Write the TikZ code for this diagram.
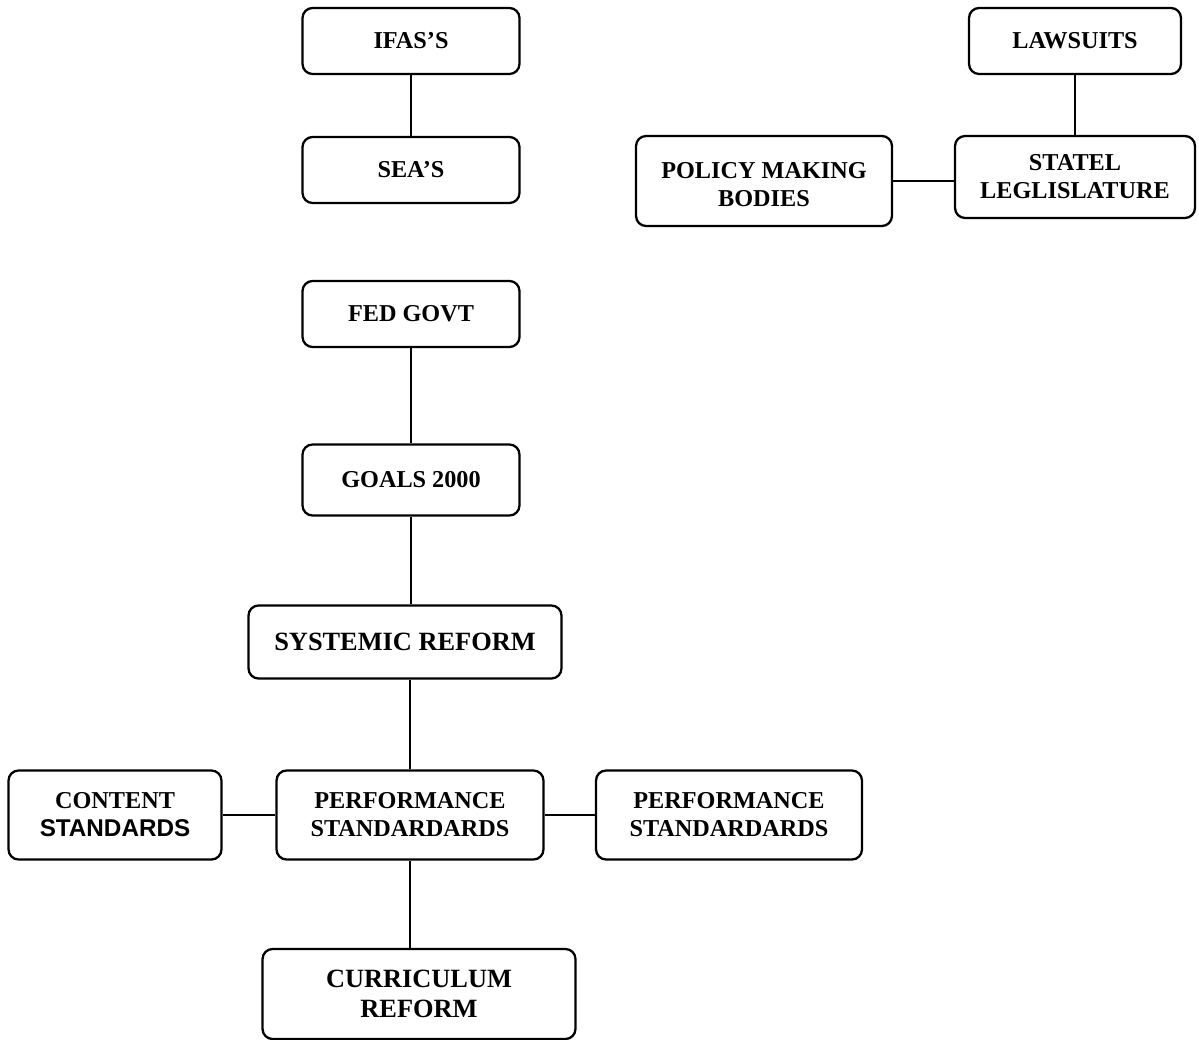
\documentclass[tikz,border=0pt]{standalone}
\usepackage{fontspec}
\setmainfont{Liberation Serif}
\newfontfamily\arialfont{Liberation Sans}
\tikzstyle{box} = [rectangle, rounded corners=0.2cm, minimum width=4.34cm, minimum height=1.32cm, text centered, align=center, draw=black, line width=1.3pt, font=\fontsize{13.8}{16}\selectfont\bfseries]
\tikzstyle{bigbox} = [box, font=\fontsize{15}{17.5}\selectfont\bfseries]
\tikzstyle{line} = [draw, line width=1.3pt]

\begin{document}
\begin{tikzpicture}[x=0.02cm, y=-0.02cm]
\useasboundingbox (0,0) rectangle (1199,1040);
\node (ifas) [box] at (411,41) {IFAS’S};
\node (sea) [box] at (411,170) {SEA’S};
\node (lawsuits) [box, minimum width=4.24cm] at (1075,41) {LAWSUITS};
\node (statel) [box, minimum width=4.8cm, minimum height=1.64cm] at (1075,177) {STATEL\\LEGLISLATURE};
\node (policy) [box, minimum width=5.12cm, minimum height=1.8cm, text height=29.7pt] at (764,181) {POLICY MAKING\\BODIES};
\node (fed) [box] at (411,314) {FED GOVT};
\node (goals) [box, minimum height=1.42cm] at (411,480) {GOALS 2000};
\node (systemic) [bigbox, minimum width=6.26cm, minimum height=1.46cm] at (405,642) {SYSTEMIC REFORM};
\node (perf) [box, minimum width=5.34cm, minimum height=1.78cm] at (410,815) {PERFORMANCE\\STANDARDARDS};
\node (content) [box, minimum width=4.26cm, minimum height=1.78cm] at (115,815) {CONTENT\\{\arialfont STANDARDS}};
\node (perfr) [box, minimum width=5.32cm, minimum height=1.78cm] at (729,815) {PERFORMANCE\\STANDARDARDS};
\node (curric) [bigbox, minimum width=6.26cm, minimum height=1.8cm] at (419,994) {CURRICULUM\\REFORM};

\path [line] (ifas) -- (sea);
\path [line] (lawsuits) -- (statel);
\path [line] (policy) -- (policy -| statel.west);
\path [line] (fed) -- (goals);
\path [line] (goals) -- (goals |- systemic.north);
\path [line] (perf) -- (perf |- systemic.south);
\path [line] (content) -- (perf);
\path [line] (perf) -- (perfr);
\path [line] (perf) -- (perf |- curric.north);
\end{tikzpicture}
\end{document}
